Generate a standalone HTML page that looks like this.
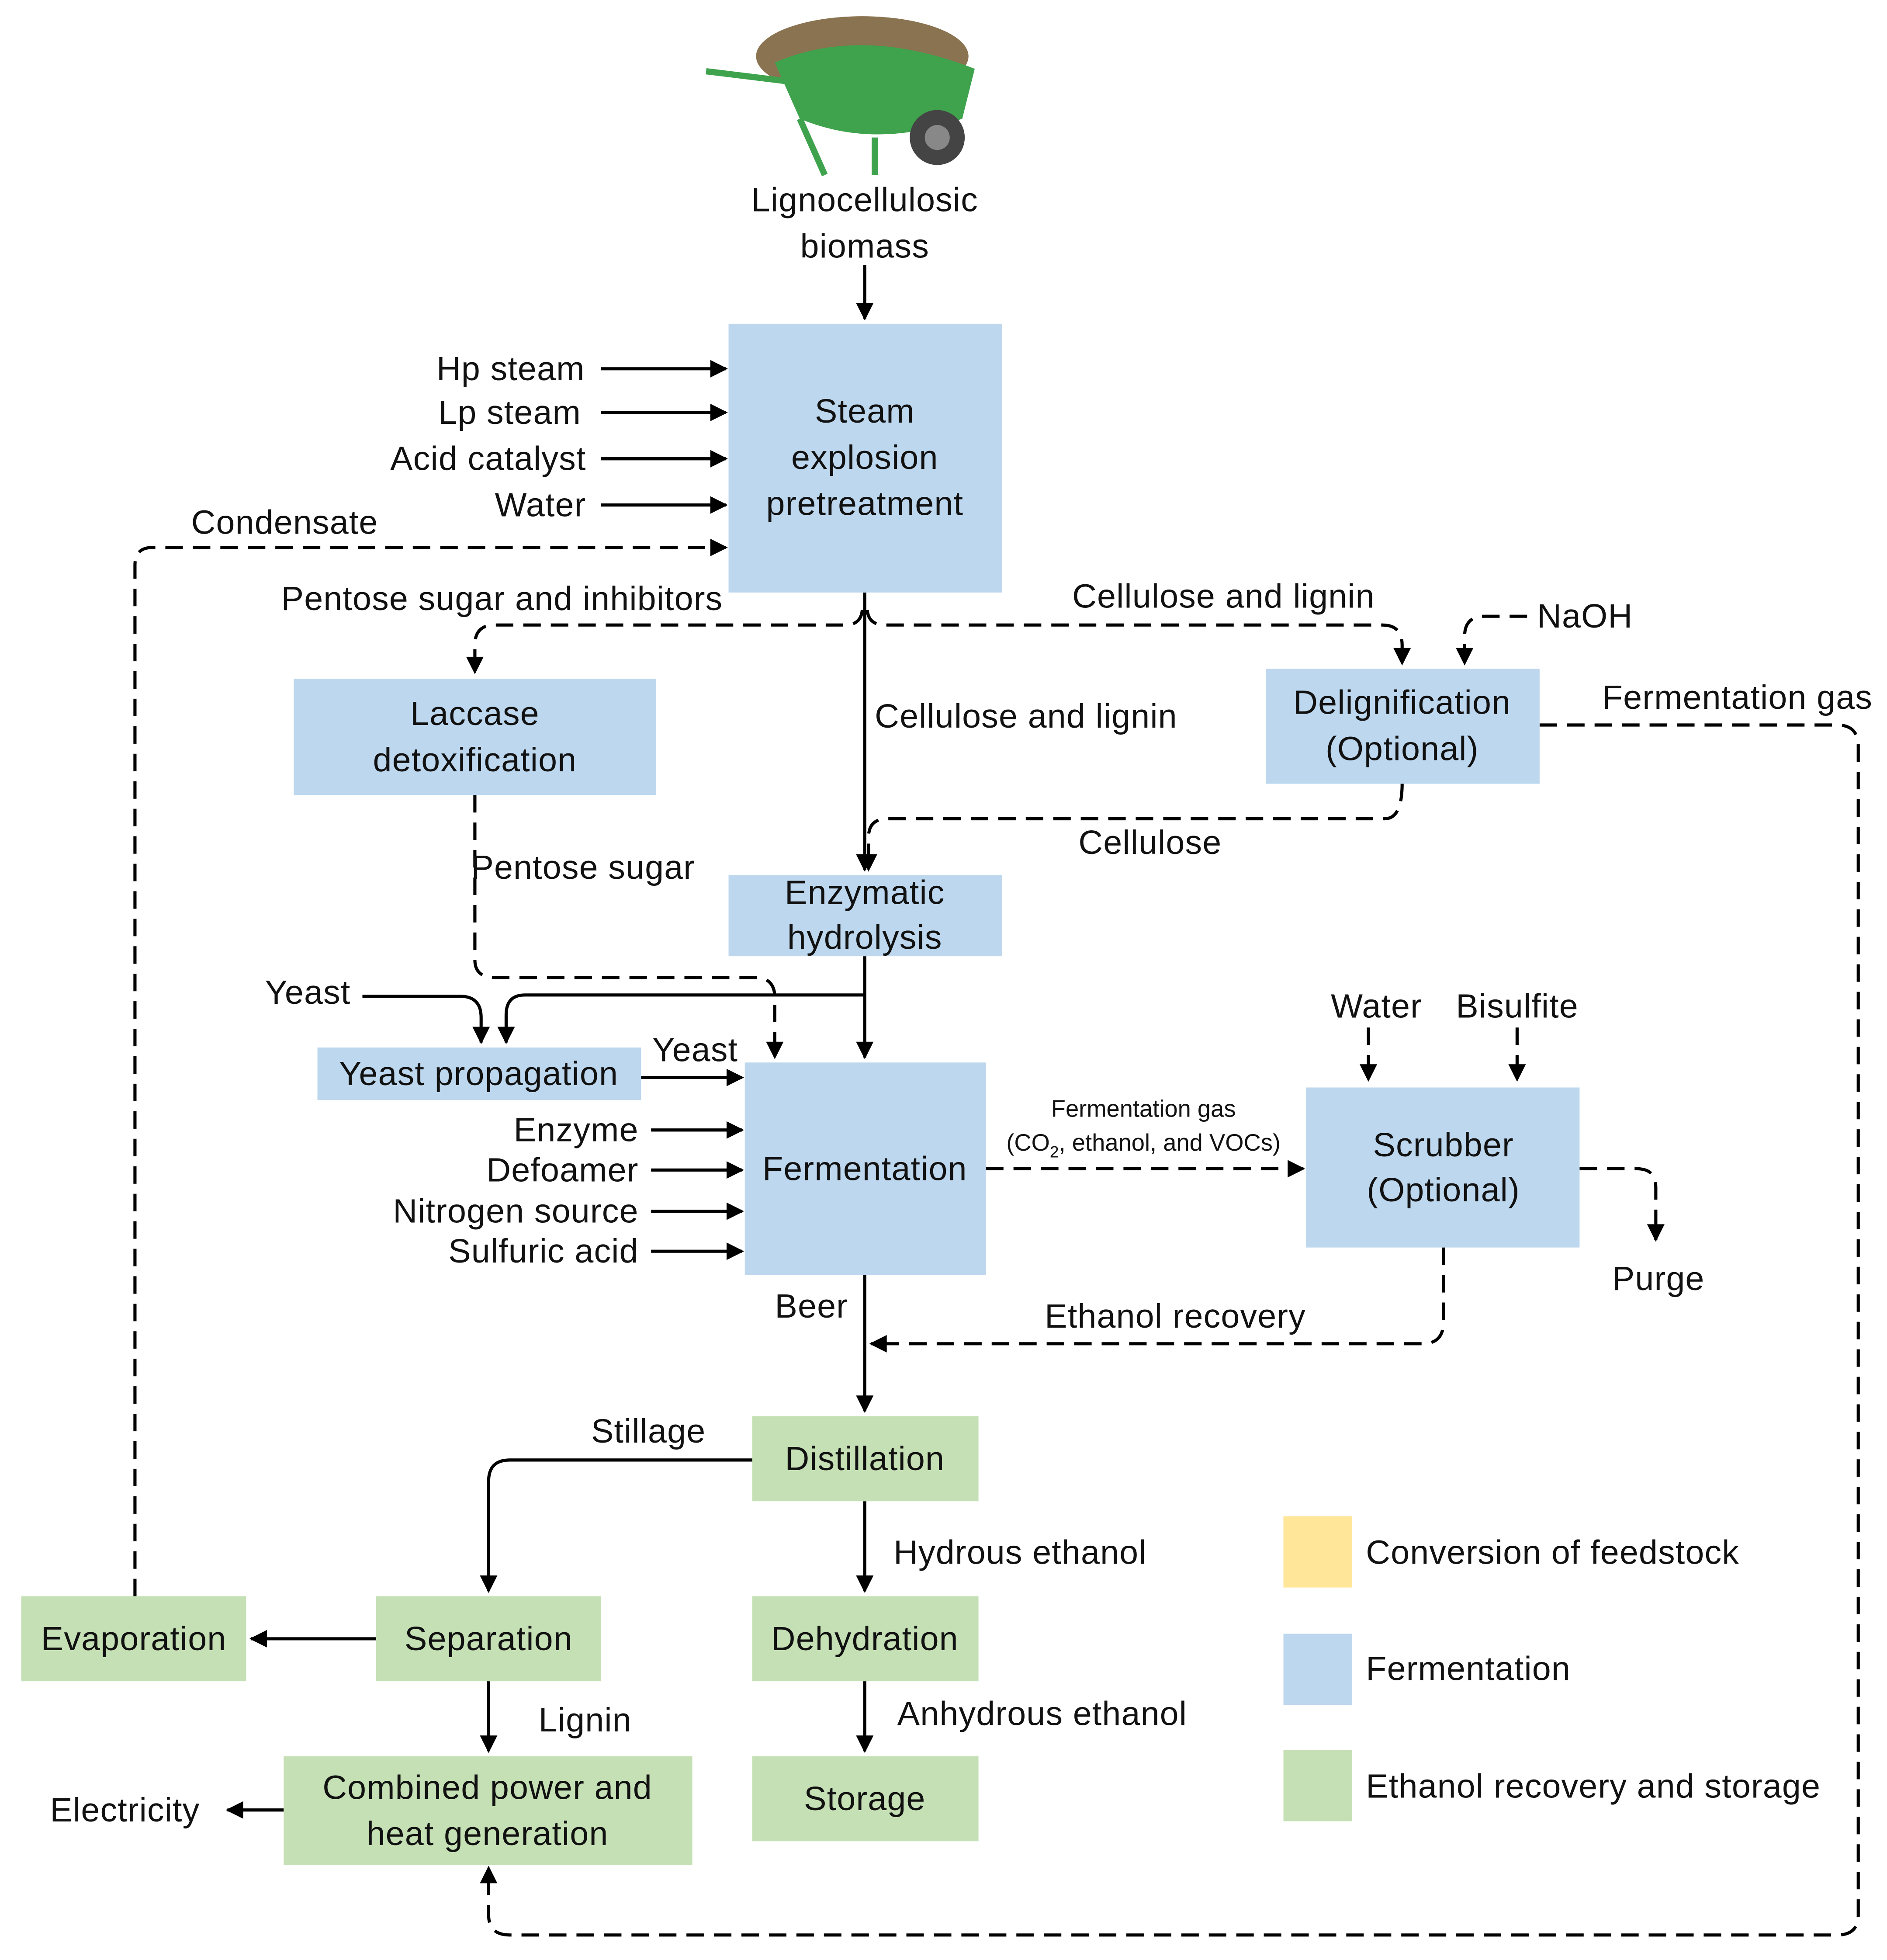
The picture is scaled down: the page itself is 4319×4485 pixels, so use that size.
<!DOCTYPE html>
<html><head><meta charset="utf-8"><style>
html,body{margin:0;padding:0;background:#fff;}
svg{display:block;}
text{font-family:"Liberation Sans",sans-serif;font-size:27px;letter-spacing:0.4px;fill:#111;dominant-baseline:central;}
</style></head><body>
<svg width="4319" height="4485" viewBox="0 0 1510 1568" preserveAspectRatio="none" xmlns="http://www.w3.org/2000/svg">
<defs>
<marker id="a" viewBox="0 0 10 10" refX="9" refY="5" markerWidth="7" markerHeight="7" orient="auto" markerUnits="userSpaceOnUse" style="overflow:visible">
<path d="M0,0 L10,5 L0,10 z" fill="#000" transform="scale(2) translate(-4.5,-2.5)"/>
</marker>
</defs>
<g id="wb">
<ellipse cx="690" cy="45" rx="85" ry="32" fill="#8a7350"/>
<path d="M620,50 Q690,20 780,55 L770,95 Q700,120 640,95 z" fill="#3fa34d"/>
<path d="M565,57 L630,65 M640,95 L660,140 M700,110 L700,140" stroke="#3fa34d" stroke-width="5" fill="none"/>
<circle cx="750" cy="110" r="22" fill="#444"/>
<circle cx="750" cy="110" r="10" fill="#888"/>
</g>
<g fill="none" stroke="#000" stroke-width="2.5">
<path d="M692,212 V255" marker-end="url(#a)"/>
<path d="M481,295 H581" marker-end="url(#a)"/>
<path d="M481,330 H581" marker-end="url(#a)"/>
<path d="M481,367 H581" marker-end="url(#a)"/>
<path d="M481,404 H581" marker-end="url(#a)"/>
<path d="M692,474 V696" marker-end="url(#a)"/>
<path d="M692,765 V846" marker-end="url(#a)"/>
<path d="M692,796 H420 Q405,796 405,812 V834" marker-end="url(#a)"/>
<path d="M290,797 H368 Q385,797 385,814 V834" marker-end="url(#a)"/>
<path d="M513,862 H594" marker-end="url(#a)"/>
<path d="M521,904 H594" marker-end="url(#a)"/>
<path d="M521,936 H594" marker-end="url(#a)"/>
<path d="M521,969 H594" marker-end="url(#a)"/>
<path d="M521,1001 H594" marker-end="url(#a)"/>
<path d="M692,1020 V1129" marker-end="url(#a)"/>
<path d="M602,1168 H408 Q391,1168 391,1185 V1273" marker-end="url(#a)"/>
<path d="M692,1201 V1273" marker-end="url(#a)"/>
<path d="M692,1345 V1401" marker-end="url(#a)"/>
<path d="M391,1345 V1401" marker-end="url(#a)"/>
<path d="M301,1311 H201" marker-end="url(#a)"/>
<path d="M227,1448 H182" marker-end="url(#a)"/>
</g>
<g fill="none" stroke="#000" stroke-width="2.5" stroke-dasharray="14,8">
<path d="M108,1277 V452 Q108,438 122,438 H581" marker-end="url(#a)"/>
<path d="M694,488 Q695,500 708,500 H1106 Q1122,500 1122,516 V531" marker-end="url(#a)"/>
<path d="M690,488 Q689,500 676,500 H396 Q380,500 380,516 V538" marker-end="url(#a)"/>
<path d="M1222,493 H1188 Q1172,493 1172,509 V531" marker-end="url(#a)"/>
<path d="M1122,627 Q1122,655 1108,655 H710 Q695,655 695,670 V696" marker-end="url(#a)"/>
<path d="M1232,580 H1470 Q1487,580 1487,597 V1532 Q1487,1548 1470,1548 H408 Q391,1548 391,1532 V1494" marker-end="url(#a)"/>
<path d="M380,636 V768 Q380,782 396,782 H604 Q620,782 620,798 V846" marker-end="url(#a)"/>
<path d="M789,935 H1043" marker-end="url(#a)"/>
<path d="M1095,822 V864" marker-end="url(#a)"/>
<path d="M1214,822 V864" marker-end="url(#a)"/>
<path d="M1264,935 H1310 Q1325,935 1325,950 V992" marker-end="url(#a)"/>
<path d="M1155,998 V1058 Q1155,1075 1138,1075 H697" marker-end="url(#a)"/>
</g>
<g fill="#bdd7ee">
<rect x="583" y="259" width="219" height="215"/>
<rect x="235" y="543" width="290" height="93"/>
<rect x="1013" y="535" width="219" height="92"/>
<rect x="583" y="700" width="219" height="65"/>
<rect x="254" y="838" width="259" height="42"/>
<rect x="596" y="850" width="193" height="170"/>
<rect x="1045" y="870" width="219" height="128"/>
<rect x="1027" y="1307" width="55" height="57"/>
</g>
<g fill="#c5e0b4">
<rect x="602" y="1133" width="181" height="68"/>
<rect x="602" y="1277" width="181" height="68"/>
<rect x="602" y="1405" width="181" height="68"/>
<rect x="301" y="1277" width="180" height="68"/>
<rect x="17" y="1277" width="180" height="68"/>
<rect x="227" y="1405" width="327" height="87"/>
<rect x="1027" y="1400" width="55" height="57"/>
</g>
<rect x="1027" y="1213" width="55" height="57" fill="#ffe699"/>
<g text-anchor="middle">
<text x="692" y="160">Lignocellulosic</text>
<text x="692" y="197">biomass</text>
<text x="692" y="329">Steam</text>
<text x="692" y="366">explosion</text>
<text x="692" y="403">pretreatment</text>
<text x="380" y="571">Laccase</text>
<text x="380" y="608">detoxification</text>
<text x="1122" y="562">Delignification</text>
<text x="1122" y="599">(Optional)</text>
<text x="692" y="714">Enzymatic</text>
<text x="692" y="750">hydrolysis</text>
<text x="383" y="859">Yeast propagation</text>
<text x="692" y="935">Fermentation</text>
<text x="1155" y="916">Scrubber</text>
<text x="1155" y="952">(Optional)</text>
<text x="915" y="887" style="font-size:19px;letter-spacing:0">Fermentation gas</text>
<text x="915" y="914" style="font-size:19px;letter-spacing:0">(CO<tspan baseline-shift="sub" style="font-size:13px">2</tspan>, ethanol, and VOCs)</text>
<text x="692" y="1167">Distillation</text>
<text x="692" y="1311">Dehydration</text>
<text x="692" y="1439">Storage</text>
<text x="391" y="1311">Separation</text>
<text x="107" y="1311">Evaporation</text>
<text x="390" y="1430">Combined power and</text>
<text x="390" y="1467">heat generation</text>
</g>
<g text-anchor="end">
<text x="468" y="295">Hp steam</text>
<text x="465" y="330">Lp steam</text>
<text x="469" y="367">Acid catalyst</text>
<text x="469" y="404">Water</text>
<text x="511" y="904">Enzyme</text>
<text x="511" y="936">Defoamer</text>
<text x="511" y="969">Nitrogen source</text>
<text x="511" y="1001">Sulfuric acid</text>
</g>
<text x="153" y="418">Condensate</text>
<text x="225" y="479">Pentose sugar and inhibitors</text>
<text x="858" y="477">Cellulose and lignin</text>
<text x="1230" y="493">NaOH</text>
<text x="700" y="573">Cellulose and lignin</text>
<text x="1282" y="558">Fermentation gas</text>
<text x="863" y="674">Cellulose</text>
<text x="377" y="694">Pentose sugar</text>
<text x="212" y="794">Yeast</text>
<text x="522" y="840">Yeast</text>
<text x="1065" y="805">Water</text>
<text x="1165" y="805">Bisulfite</text>
<text x="1290" y="1023">Purge</text>
<text x="836" y="1053">Ethanol recovery</text>
<text x="620" y="1045">Beer</text>
<text x="473" y="1145">Stillage</text>
<text x="715" y="1242">Hydrous ethanol</text>
<text x="718" y="1371">Anhydrous ethanol</text>
<text x="431" y="1376">Lignin</text>
<text x="40" y="1448">Electricity</text>
<text x="1093" y="1242">Conversion of feedstock</text>
<text x="1093" y="1335">Fermentation</text>
<text x="1093" y="1429">Ethanol recovery and storage</text>
</svg>
</body></html>
